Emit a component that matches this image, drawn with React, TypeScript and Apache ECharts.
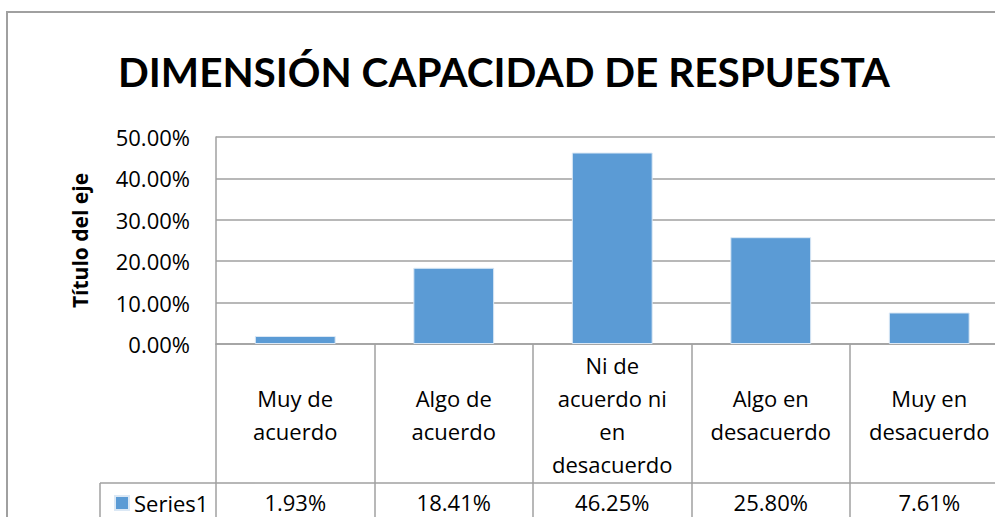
import React, { useEffect, useRef } from "react";
import * as echarts from "echarts";

const TITLE = "DIMENSIÓN CAPACIDAD DE RESPUESTA";
const Y_AXIS_TITLE = "Título del eje";
const SERIES_NAME = "Series1";
const categories = [
  "Muy de acuerdo",
  "Algo de acuerdo",
  "Ni de acuerdo ni en desacuerdo",
  "Algo en desacuerdo",
  "Muy en desacuerdo",
];
const categoryLabelLines = [
  ["Muy de", "acuerdo"],
  ["Algo de", "acuerdo"],
  ["Ni de", "acuerdo ni", "en", "desacuerdo"],
  ["Algo en", "desacuerdo"],
  ["Muy en", "desacuerdo"],
];
const values = [0.0193, 0.1841, 0.4625, 0.258, 0.0761];
const yTicks = [0, 0.1, 0.2, 0.3, 0.4, 0.5];

const FONT = "'Open Sans', 'Noto Sans', sans-serif";
const TITLE_FONT = "Lato, 'Open Sans', sans-serif";
const LINE = "#a0a0a0";
const BAR = "#5B9BD5";

const pct = (v: number) => (v * 100).toFixed(2) + "%";

export default function App() {
  const ref = useRef<HTMLDivElement>(null);
  useEffect(() => {
    if (!ref.current) return;
    const chart = echarts.init(ref.current, null, { renderer: "svg" });
    const gridLeft = 216;
    const gridTop = 137;
    const gridHeight = 207;
    const catWidth = 158.5;
    const axisY = gridTop + gridHeight;
    const tableRowY = 483;
    chart.setOption({
      animation: false,
      backgroundColor: "#ffffff",
      textStyle: { fontFamily: FONT },
      title: {
        text: TITLE,
        left: 499,
        top: 46,
        textAlign: "center",
        textStyle: {
          fontFamily: TITLE_FONT,
          fontSize: 40.5,
          fontWeight: "bold",
          color: "#000000",
        },
      },
      legend: {
        data: [SERIES_NAME],
        left: 109,
        top: 487,
        icon: "rect",
        itemWidth: 14,
        itemHeight: 14,
        textStyle: { fontFamily: FONT, fontSize: 22, color: "#000000" },
      },
      grid: {
        left: gridLeft,
        top: gridTop,
        width: catWidth * categories.length,
        height: gridHeight,
        containLabel: false,
      },
      xAxis: [
        {
          type: "category",
          data: categories,
          position: "bottom",
          axisLine: { show: true, lineStyle: { color: LINE, width: 1.5 } },
          axisTick: {
            show: true,
            alignWithLabel: false,
            length: 200,
            lineStyle: { color: LINE, width: 1.5 },
          },
          axisLabel: {
            interval: 0,
            margin: 70,
            verticalAlign: "middle",
            align: "center",
            fontFamily: FONT,
            fontSize: 22,
            lineHeight: 33,
            color: "#000000",
            formatter: (_v: string, i: number) => categoryLabelLines[i].join("\n"),
          },
          splitLine: { show: false },
        },
        {
          type: "category",
          data: categories,
          position: "bottom",
          offset: tableRowY - axisY,
          axisLine: { show: true, lineStyle: { color: LINE, width: 1.5 } },
          axisTick: { show: false },
          axisLabel: {
            interval: 0,
            margin: 19,
            verticalAlign: "middle",
            align: "center",
            fontFamily: FONT,
            fontSize: 22,
            color: "#000000",
            formatter: (_v: string, i: number) => pct(values[i]),
          },
          splitLine: { show: false },
        },
      ],
      yAxis: {
        type: "value",
        min: 0,
        max: yTicks[yTicks.length - 1],
        interval: 0.1,
        name: Y_AXIS_TITLE,
        nameLocation: "middle",
        nameRotate: 90,
        nameGap: 126,
        nameTextStyle: {
          fontFamily: FONT,
          fontSize: 21,
          fontWeight: "bold",
          color: "#000000",
        },
        axisLine: { show: true, lineStyle: { color: LINE, width: 1.5 } },
        axisTick: { show: false },
        axisLabel: {
          margin: 26,
          fontFamily: FONT,
          fontSize: 22,
          color: "#000000",
          formatter: (v: number) => pct(v),
        },
        splitLine: { show: true, lineStyle: { color: LINE, width: 1.5 } },
      },
      series: [
        {
          name: SERIES_NAME,
          type: "bar",
          data: values,
          barCategoryGap: "49%",
          itemStyle: { color: BAR, borderColor: "#dbe8f5", borderWidth: 1 },
        },
      ],
      graphic: [
        {
          type: "rect",
          shape: { x: 7, y: 12, width: 1200, height: 700 },
          style: { fill: "none", stroke: LINE, lineWidth: 2 },
          silent: true,
        },
        {
          type: "line",
          shape: { x1: 100, y1: tableRowY, x2: gridLeft, y2: tableRowY },
          style: { stroke: LINE, lineWidth: 1.5 },
          silent: true,
        },
        {
          type: "line",
          shape: { x1: 100, y1: tableRowY, x2: 100, y2: 560 },
          style: { stroke: LINE, lineWidth: 1.5 },
          silent: true,
        },
      ],
    });
    return () => chart.dispose();
  }, []);
  return (
    <div
      style={{
        position: "fixed",
        left: 0,
        top: 0,
        width: 995,
        height: 517,
        overflow: "hidden",
        background: "#ffffff",
      }}
    >
      <div ref={ref} style={{ width: 1030, height: 517 }} />
    </div>
  );
}
